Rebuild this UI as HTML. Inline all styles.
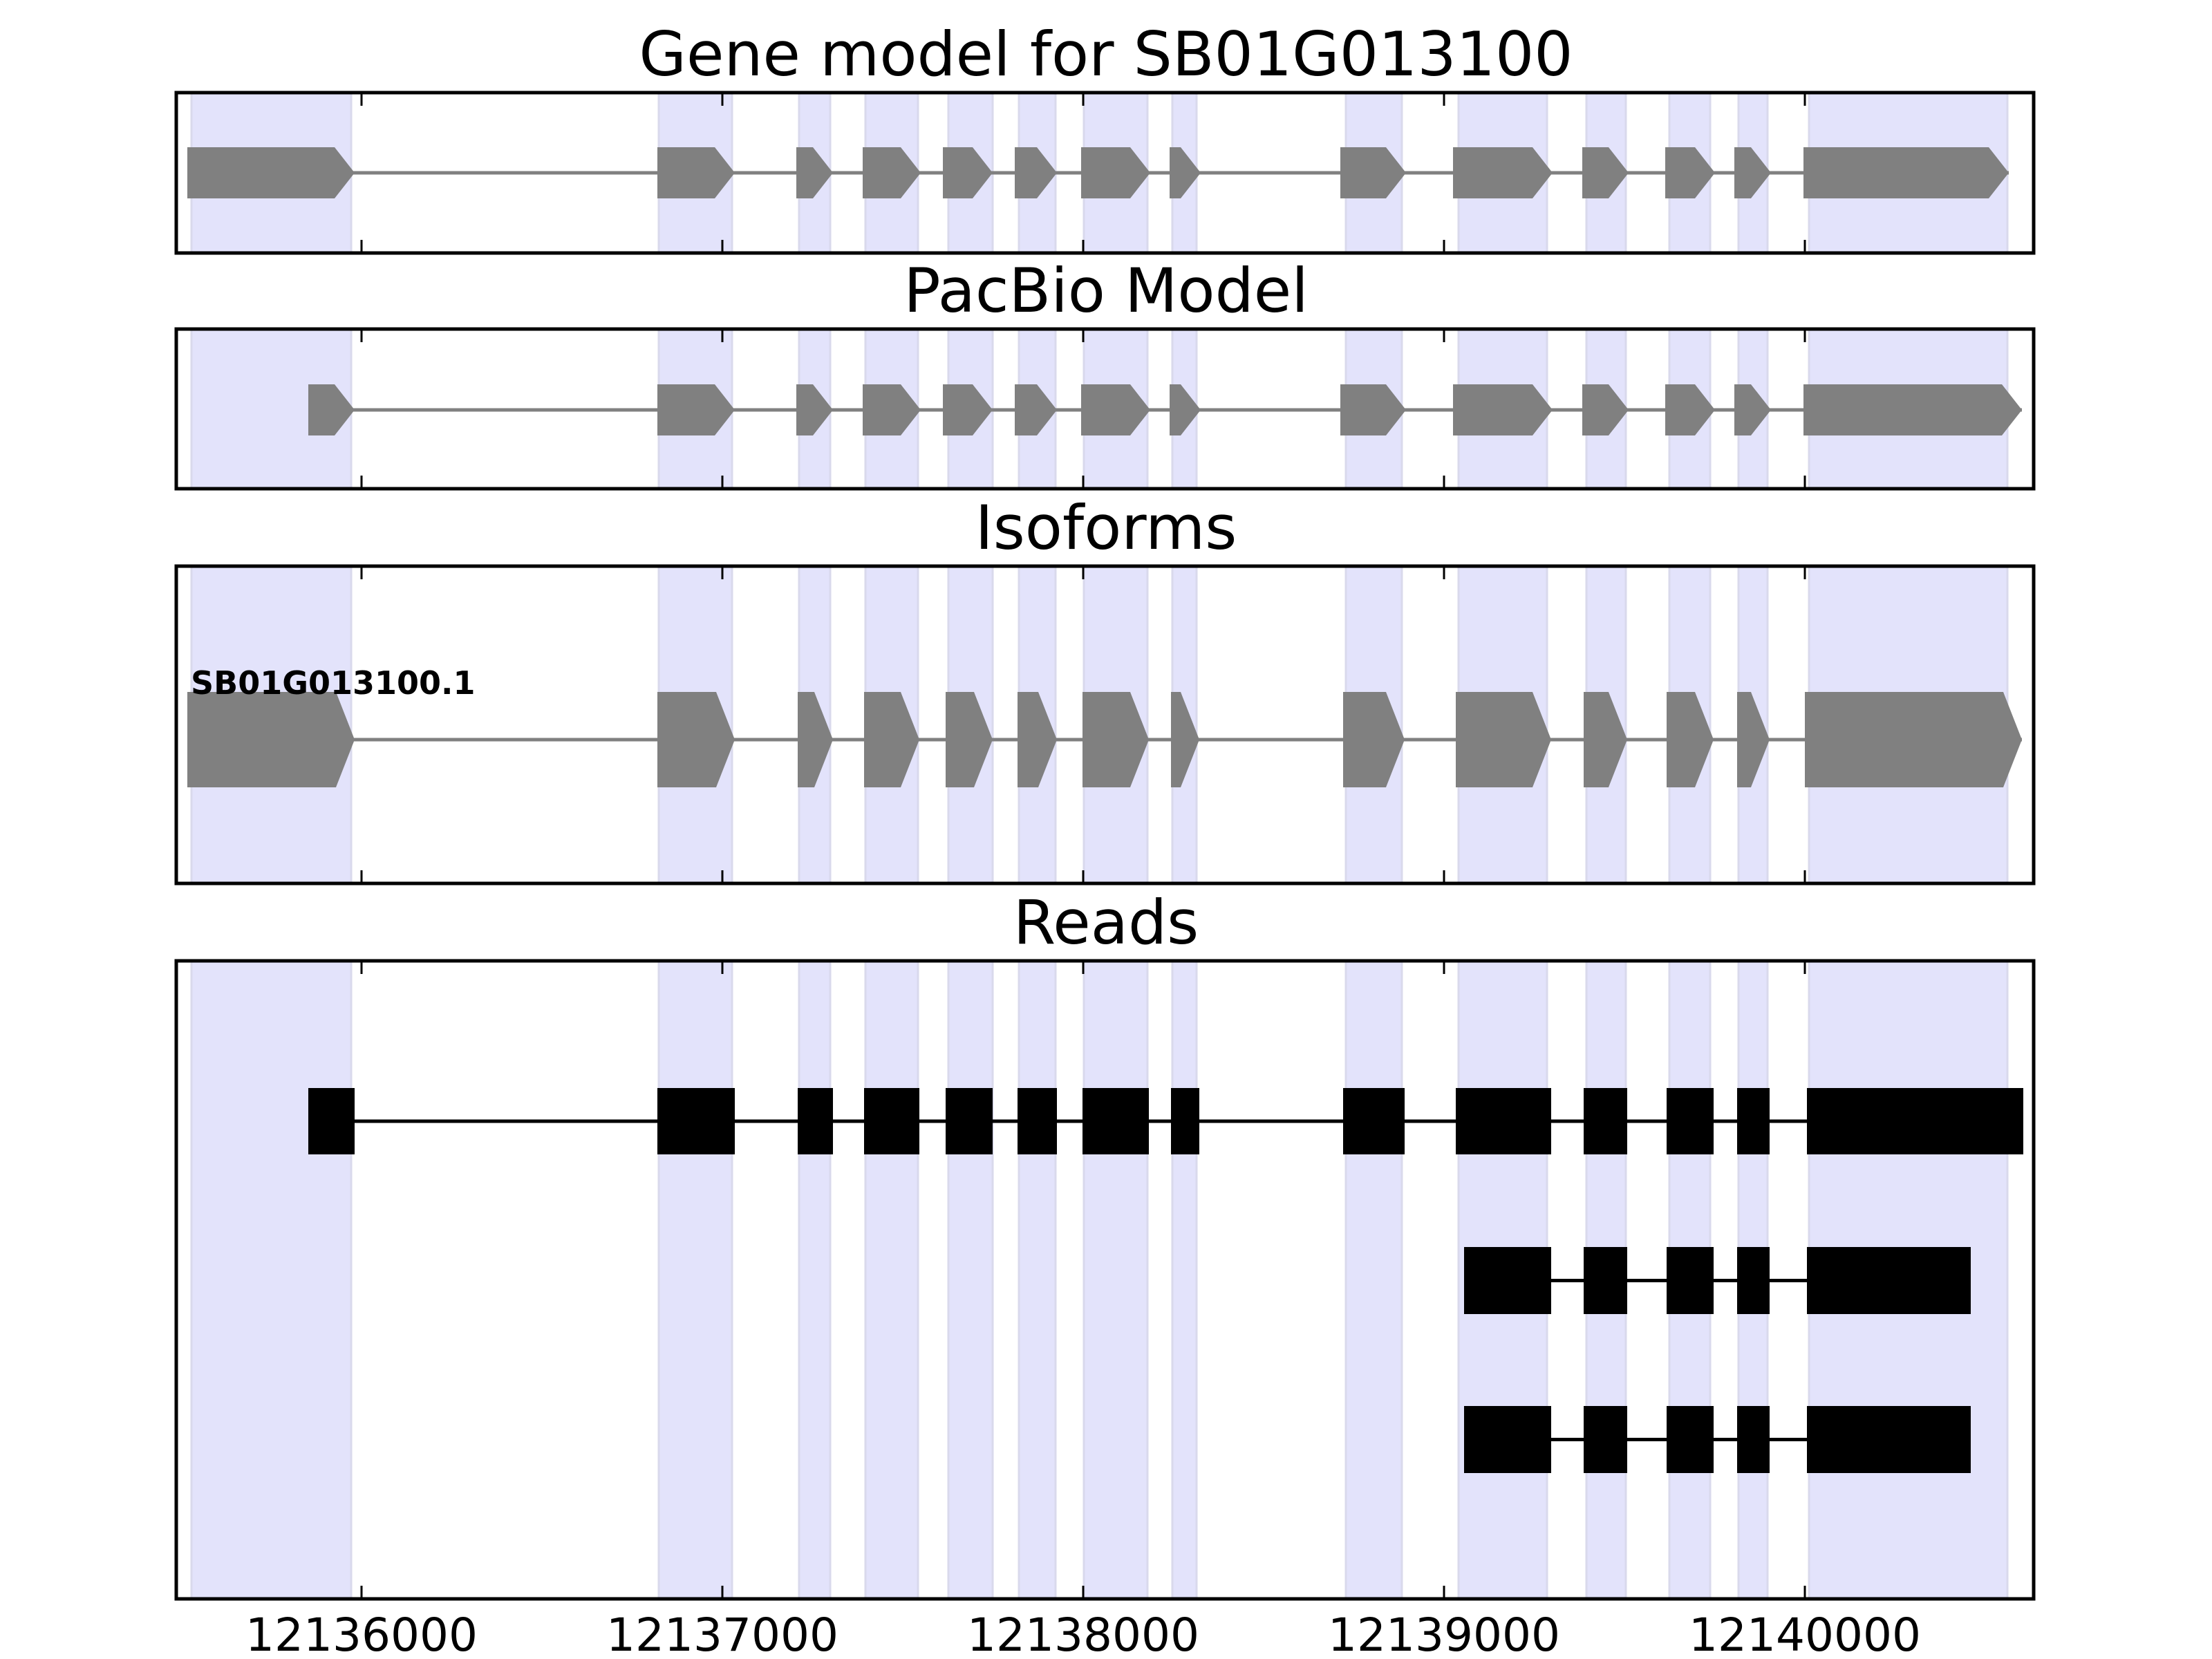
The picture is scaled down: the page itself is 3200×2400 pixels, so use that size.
<!DOCTYPE html>
<html><head><meta charset="utf-8"><style>
html,body{margin:0;padding:0;background:#fff;}
svg{display:block;}
text{font-family:"DejaVu Sans","Liberation Sans",sans-serif;}
</style></head><body>
<svg id="s" width="3200" height="2400" viewBox="0 0 3200 2400" xmlns="http://www.w3.org/2000/svg"></svg>
<script>
const S=document.getElementById('s');const NS='http://www.w3.org/2000/svg';
function el(t,a,txt){const e=document.createElementNS(NS,t);for(const k in a)e.setAttribute(k,a[k]);if(txt!==undefined)e.textContent=txt;S.appendChild(e);return e;}
const L=255,R=2942;
const axes=[[134,366],[476,707],[819,1278],[1390,2313]];
const titles=["Gene model for SB01G013100","PacBio Model","Isoforms","Reads"];
const shade=[[277,508],[953,1059],[1156,1201],[1252,1328],[1372,1436],[1474,1527],[1568,1660],[1696,1731],[1947,2028],[2110,2238],[2295,2352],[2415,2474],[2515,2557],[2617,2904]];
const ticks=[523,1045,1567,2089,2611];
axes.forEach(([t,b],i)=>{
  shade.forEach(([x1,x2])=>{el('rect',{x:x1,y:t,width:x2-x1,height:b-t,fill:'#e3e3fb',stroke:'#d9d9ec','stroke-width':3});});
  el('text',{x:1600,y:t-25,'font-size':88.5,'text-anchor':'middle',fill:'#000'},titles[i]);
});
function arrowExon(x1,x2,cy,h,tip,col){
  el('polygon',{points:`${x1},${cy-h} ${x2-tip},${cy-h} ${x2},${cy} ${x2-tip},${cy+h} ${x1},${cy+h}`,fill:col});
}
function model(exons,cy,h,tip){
  el('line',{x1:exons[0][0],x2:exons[exons.length-1][1],y1:cy,y2:cy,stroke:'#808080','stroke-width':5});
  exons.forEach(([a,b])=>arrowExon(a,b,cy,h,tip,'#808080'));
}
const gm=[[271,513],[951,1063],[1152,1205],[1248,1332],[1364,1436],[1468,1529],[1564,1664],[1692,1737],[1939,2034],[2102,2246],[2289,2356],[2409,2481],[2509,2562],[2609,2906]];
model(gm,250,37,29);
const pb=gm.map(e=>e.slice());pb[0]=[446,513];pb[13]=[2609,2925];
model(pb,593,37,29);
const iso=[[271,513],[951,1063],[1154,1205],[1250,1330],[1368,1436],[1472,1529],[1566,1662],[1694,1735],[1943,2032],[2106,2244],[2291,2354],[2411,2479],[2513,2560],[2611,2925]];
model(iso,1070,69,27);
el('text',{x:276,y:1004,'font-size':46,'font-weight':'bold',fill:'#000'},'SB01G013100.1');
function reads(exons,t,b){
  const cy=(t+b)/2;
  el('line',{x1:exons[0][0],x2:exons[exons.length-1][1],y1:cy,y2:cy,stroke:'#000','stroke-width':5});
  exons.forEach(([a,c])=>el('rect',{x:a,y:t,width:c-a,height:b-t,fill:'#000'}));
}
const r1=[[446,513],[951,1063],[1154,1205],[1250,1330],[1368,1436],[1472,1529],[1566,1662],[1694,1735],[1943,2032],[2106,2244],[2291,2354],[2411,2479],[2513,2560],[2614,2927]];
reads(r1,1574,1670);
const r2=[[2118,2244],[2291,2354],[2411,2479],[2513,2560],[2614,2851]];
reads(r2,1804,1901);
reads(r2,2034,2131);
axes.forEach(([t,b])=>{
  ticks.forEach(x=>{
    el('line',{x1:x,x2:x,y1:t,y2:t+19,stroke:'#000','stroke-width':3});
    el('line',{x1:x,x2:x,y1:b,y2:b-19,stroke:'#000','stroke-width':3});
  });
  el('rect',{x:L,y:t,width:R-L,height:b-t,fill:'none',stroke:'#000','stroke-width':5});
});
const labs=['12136000','12137000','12138000','12139000','12140000'];
ticks.forEach((x,i)=>el('text',{x:x,y:2388,'font-size':66,'text-anchor':'middle',fill:'#000'},labs[i]));
</script>
</body></html>
